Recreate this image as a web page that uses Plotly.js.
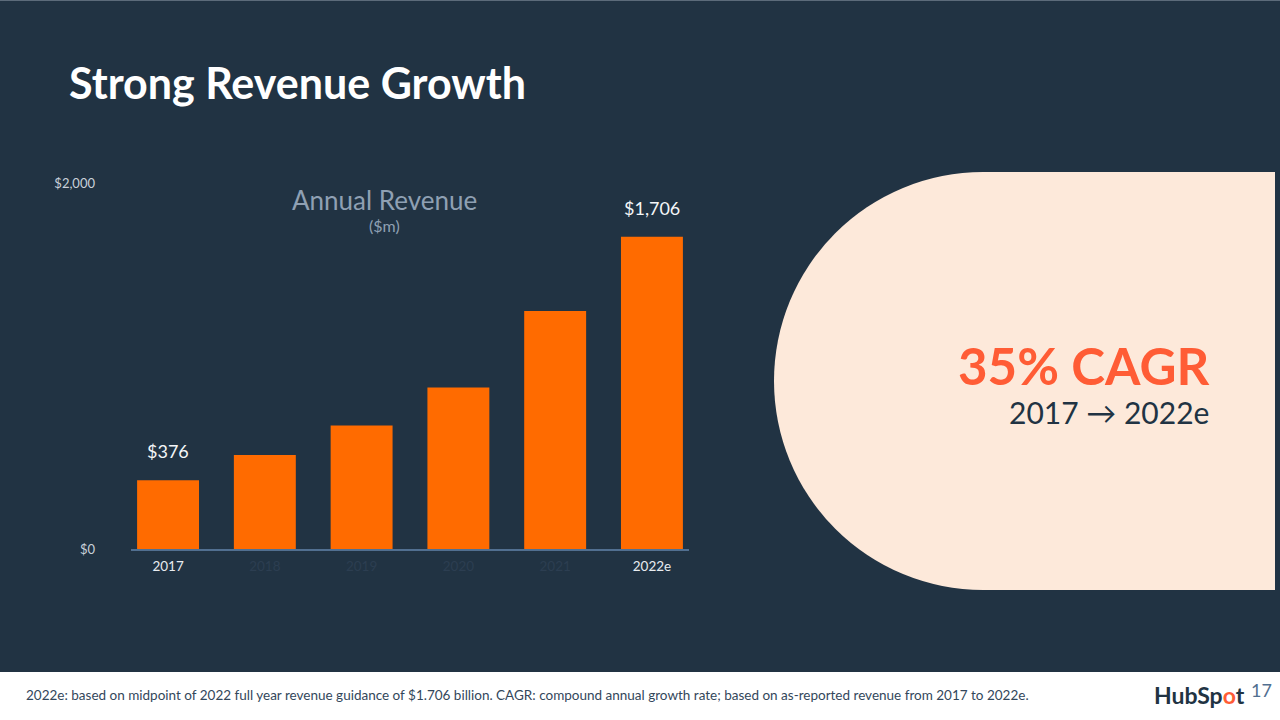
<!DOCTYPE html>
<html>
<head>
<meta charset="utf-8">
<script src="https://cdn.plot.ly/plotly-3.0.1.min.js"></script>
<style>
  html, body { margin: 0; padding: 0; background: #213343; }
  #chart { width: 1280px; height: 720px; }
</style>
</head>
<body>
<div id="chart"></div>
<script>
// ---- data ----
const years = ['2017', '2018', '2019', '2020', '2021', '2022e'];
const revenue = [376, 513, 675, 883, 1301, 1706];
const valueLabels = ['$376', '', '', '', '', '$1,706'];
const highlightedYears = ['2017', '2022e'];
const yTicks = [0, 2000];
const yTickLabels = ['$0', '$2,000'];

const W = 1280, H = 720;
const px = x => x / W;            // pixel -> paper x
const py = y => 1 - y / H;        // pixel -> paper y

const BG = '#213343';
const ORANGE = '#ff6b00';
const CREAM = '#fde9da';

const tickText = years.map(y => highlightedYears.includes(y)
  ? '<span style="color:#e8ecf0">' + y + '</span>'
  : '<span style="color:#2c3e51">' + y + '</span>');

const trace = {
  type: 'bar',
  x: years,
  y: revenue,
  width: 0.64,
  marker: { color: ORANGE, line: { width: 0 } },
  hoverinfo: 'skip'
};

const annotations = [];
years.forEach((yr, i) => {
  if (valueLabels[i]) {
    annotations.push({
      x: i, y: revenue[i], xref: 'x', yref: 'y',
      text: valueLabels[i], showarrow: false,
      yanchor: 'bottom', yshift: 16,
      font: { family: 'Lato, sans-serif', size: 18, color: '#f4f6f8' }
    });
  }
});

annotations.push(
  { x: px(67), y: py(82), xref: 'paper', yref: 'paper', xanchor: 'left', yanchor: 'middle',
    text: '<b>Strong Revenue Growth</b>', showarrow: false,
    font: { family: 'Lato, sans-serif', size: 43, color: '#ffffff' } },
  { x: px(384), y: py(200), xref: 'paper', yref: 'paper', xanchor: 'center', yanchor: 'middle',
    text: 'Annual Revenue', showarrow: false,
    font: { family: 'Lato, sans-serif', size: 26, color: '#8fa0b3' } },
  { x: px(384), y: py(225), xref: 'paper', yref: 'paper', xanchor: 'center', yanchor: 'middle',
    text: '($m)', showarrow: false,
    font: { family: 'Lato, sans-serif', size: 16, color: '#8fa0b3' } },
  { x: px(1211), y: py(365), xref: 'paper', yref: 'paper', xanchor: 'right', yanchor: 'middle',
    text: '<b>35% CAGR</b>', showarrow: false,
    font: { family: 'Lato, sans-serif', size: 51, color: '#ff5c35' } },
  { x: px(1211), y: py(412), xref: 'paper', yref: 'paper', xanchor: 'right', yanchor: 'middle',
    text: '2017 → 2022e', showarrow: false,
    font: { family: 'Lato, sans-serif', size: 30, color: '#213343' } },
  { x: px(24), y: py(695), xref: 'paper', yref: 'paper', xanchor: 'left', yanchor: 'middle',
    text: '2022e: based on midpoint of 2022 full year revenue guidance of $1.706 billion. CAGR: compound annual growth rate; based on as-reported revenue from 2017 to 2022e.',
    showarrow: false,
    font: { family: 'Lato, sans-serif', size: 13.5, color: '#33475b' } },
  { x: px(1247), y: py(695), xref: 'paper', yref: 'paper', xanchor: 'right', yanchor: 'middle',
    text: '<b>HubSp<span style="color:#ff5c35">o</span>t</b>', showarrow: false,
    font: { family: 'Lato, sans-serif', size: 23, color: '#213343' } },
  { x: px(1249), y: py(690), xref: 'paper', yref: 'paper', xanchor: 'left', yanchor: 'middle',
    text: '17', showarrow: false,
    font: { family: 'Lato, sans-serif', size: 18, color: '#516f90' } }
);

const shapes = [
  // cream pill (semicircle + rectangle)
  { type: 'circle', xref: 'paper', yref: 'paper', layer: 'below',
    x0: px(774), x1: px(774 + 418), y0: py(590), y1: py(172),
    fillcolor: CREAM, line: { width: 0 } },
  { type: 'rect', xref: 'paper', yref: 'paper', layer: 'below',
    x0: px(983), x1: px(1275), y0: py(590), y1: py(172),
    fillcolor: CREAM, line: { width: 0 } },
  // footer
  { type: 'rect', xref: 'paper', yref: 'paper', layer: 'below',
    x0: 0, x1: 1, y0: 0, y1: py(672),
    fillcolor: '#ffffff', line: { width: 0 } },
  // top edge line
  { type: 'line', xref: 'paper', yref: 'paper', layer: 'below',
    x0: 0, x1: 1, y0: py(0.5), y1: py(0.5),
    line: { color: '#5c6b7a', width: 1 } }
];

const layout = {
  width: W, height: H,
  margin: { l: 0, r: 0, t: 0, b: 0, pad: 0 },
  paper_bgcolor: BG,
  plot_bgcolor: 'rgba(0,0,0,0)',
  showlegend: false,
  xaxis: {
    type: 'category',
    domain: [px(131), px(689)],
    range: [-0.383, 5.383],
    tickmode: 'array',
    tickvals: years,
    ticktext: tickText,
    ticks: '',
    showgrid: false,
    zeroline: false,
    showline: true,
    linecolor: '#516f90',
    linewidth: 2,
    ticklabelstandoff: 4,
    tickfont: { family: 'Lato, sans-serif', size: 13.5, color: '#e8ecf0' },
    fixedrange: true
  },
  yaxis: {
    domain: [py(549), py(183)],
    range: [0, 2000],
    tickmode: 'array',
    tickvals: yTicks,
    ticktext: yTickLabels,
    ticks: '',
    showgrid: false,
    zeroline: false,
    showline: false,
    ticklabelstandoff: 35,
    tickfont: { family: 'Lato, sans-serif', size: 13, color: '#c9d1da' },
    fixedrange: true
  },
  annotations: annotations,
  shapes: shapes
};

Plotly.newPlot('chart', [trace], layout, { displayModeBar: false, staticPlot: true });
</script>
</body>
</html>
